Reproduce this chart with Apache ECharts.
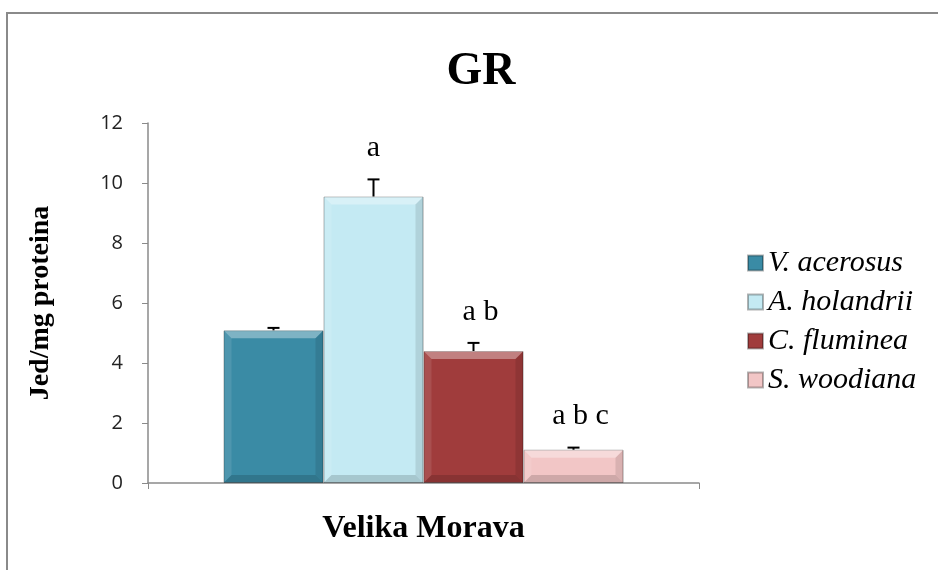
<!DOCTYPE html>
<html>
<head>
<meta charset="utf-8">
<script src="https://cdn.jsdelivr.net/npm/echarts@6/dist/echarts.min.js"></script>
<style>
  html, body { margin: 0; padding: 0; background: #fff; }
  #chart { width: 938px; height: 570px; }
</style>
</head>
<body>
<div id="chart"></div>
<script>
// podaci
var categories = ['Velika Morava'];
var speciesNames = ['V. acerosus', 'A. holandrii', 'C. fluminea', 'S. woodiana'];
var speciesColors = ['#3a8ba5', '#c4eaf3', '#a03c3c', '#f2c6c6'];
var meanValues = [5.09, 9.55, 4.40, 1.11];
var errValues = [0.08, 0.57, 0.27, 0.07];
var sigLabels = ['', 'a', 'a b', 'a b c'];
var yTicks = [0, 2, 4, 6, 8, 10, 12];

var BAR_W = 100;
var serif = 'Liberation Serif, Times New Roman, serif';

var chart = echarts.init(document.getElementById('chart'));

// jedna serija po vrsti (zbog legende)
var barSeries = speciesNames.map(function (name, i) {
  return {
    name: name,
    type: 'bar',
    barWidth: BAR_W,
    barGap: '0%',
    itemStyle: { color: speciesColors[i], borderColor: 'rgba(0,0,0,0.3)', borderWidth: 1 },
    data: [meanValues[i]]
  };
});

function barBox(api, i, v) {
  var top = api.coord([0, v]);
  var base = api.coord([0, 0]);
  var x0 = top[0] - BAR_W * speciesNames.length / 2 + i * BAR_W;
  return { x0: x0, x1: x0 + BAR_W, yT: top[1], yB: base[1], cx: x0 + BAR_W / 2 };
}

// "bevel" efekat preko stubica
var bevelSeries = {
  type: 'custom',
  silent: true,
  z: 3,
  encode: { x: 0, y: 1 },
  data: meanValues.map(function (v, i) { return [0, v, i]; }),
  renderItem: function (params, api) {
    var b0 = barBox(api, api.value(2), api.value(1));
    var b = Math.min(8, (b0.yB - b0.yT) / 2);
    var x0 = b0.x0, x1 = b0.x1, yT = b0.yT, yB = b0.yB;
    return {
      type: 'group',
      children: [
        { type: 'polygon', shape: { points: [[x0, yT], [x1, yT], [x1 - b, yT + b], [x0 + b, yT + b]] }, style: { fill: 'rgba(255,255,255,0.35)' } },
        { type: 'polygon', shape: { points: [[x0, yT], [x0 + b, yT + b], [x0 + b, yB - b], [x0, yB]] }, style: { fill: 'rgba(255,255,255,0.1)' } },
        { type: 'polygon', shape: { points: [[x1, yT], [x1, yB], [x1 - b, yB - b], [x1 - b, yT + b]] }, style: { fill: 'rgba(0,0,0,0.1)' } },
        { type: 'polygon', shape: { points: [[x0, yB], [x0 + b, yB - b], [x1 - b, yB - b], [x1, yB]] }, style: { fill: 'rgba(0,0,0,0.15)' } }
      ]
    };
  }
};

// greske (samo na gore) i oznake znacajnosti
var errorSeries = {
  type: 'custom',
  silent: true,
  z: 4,
  encode: { x: 0, y: 1 },
  data: meanValues.map(function (v, i) { return [0, v, errValues[i], i]; }),
  renderItem: function (params, api) {
    var i = api.value(3);
    var v = api.value(1);
    var b0 = barBox(api, i, v);
    var hi = api.coord([0, v + api.value(2)])[1];
    var cx = b0.cx;
    return {
      type: 'group',
      children: [
        { type: 'line', shape: { x1: cx, y1: b0.yT, x2: cx, y2: hi }, style: { stroke: '#000', lineWidth: 2 } },
        { type: 'line', shape: { x1: cx - 6, y1: hi, x2: cx + 6, y2: hi }, style: { stroke: '#000', lineWidth: 2 } },
        { type: 'text', style: { text: sigLabels[i], x: cx + (sigLabels[i].length > 1 ? 7 : 0), y: hi - 16, align: 'center', verticalAlign: 'bottom', fill: '#000', font: '30px ' + serif } }
      ]
    };
  }
};

var option = {
  animation: false,
  backgroundColor: '#fff',
  graphic: [{
    type: 'rect',
    shape: { x: 7, y: 13, width: 1000, height: 700 },
    style: { fill: 'none', stroke: '#8a8a8a', lineWidth: 2 },
    silent: true
  }],
  title: {
    text: 'GR',
    left: 476,
    textAlign: 'center',
    top: 44,
    textStyle: { fontFamily: serif, fontSize: 46, fontWeight: 'bold', color: '#000' }
  },
  legend: {
    orient: 'vertical',
    left: 742,
    top: 243,
    itemWidth: 15,
    itemHeight: 15,
    itemGap: 9,
    icon: 'rect',
    data: speciesNames,
    textStyle: { fontFamily: serif, fontSize: 30, fontStyle: 'italic', color: '#000', lineHeight: 30 }
  },
  grid: { left: 148, right: 239, top: 123, bottom: 87 },
  xAxis: {
    type: 'category',
    data: categories,
    axisLine: { lineStyle: { color: '#8a8a8a', width: 1.5 } },
    axisTick: { show: true, length: 6, lineStyle: { color: '#8a8a8a' } },
    axisLabel: { margin: 30, color: '#000', fontFamily: serif, fontSize: 32, fontWeight: 'bold' }
  },
  yAxis: {
    type: 'value',
    min: yTicks[0],
    max: yTicks[yTicks.length - 1],
    interval: yTicks[1] - yTicks[0],
    name: 'Jed/mg proteina',
    nameLocation: 'middle',
    nameRotate: 90,
    nameGap: 93,
    nameTextStyle: { fontFamily: serif, fontSize: 28, fontWeight: 'bold', color: '#000' },
    axisLine: { show: true, lineStyle: { color: '#8a8a8a', width: 1.5 } },
    axisTick: { show: true, length: 6, lineStyle: { color: '#8a8a8a' } },
    splitLine: { show: false },
    axisLabel: { margin: 25, color: '#222', fontFamily: 'Open Sans', fontSize: 20 }
  },
  series: barSeries.concat([bevelSeries, errorSeries])
};

chart.setOption(option);
</script>
</body>
</html>
